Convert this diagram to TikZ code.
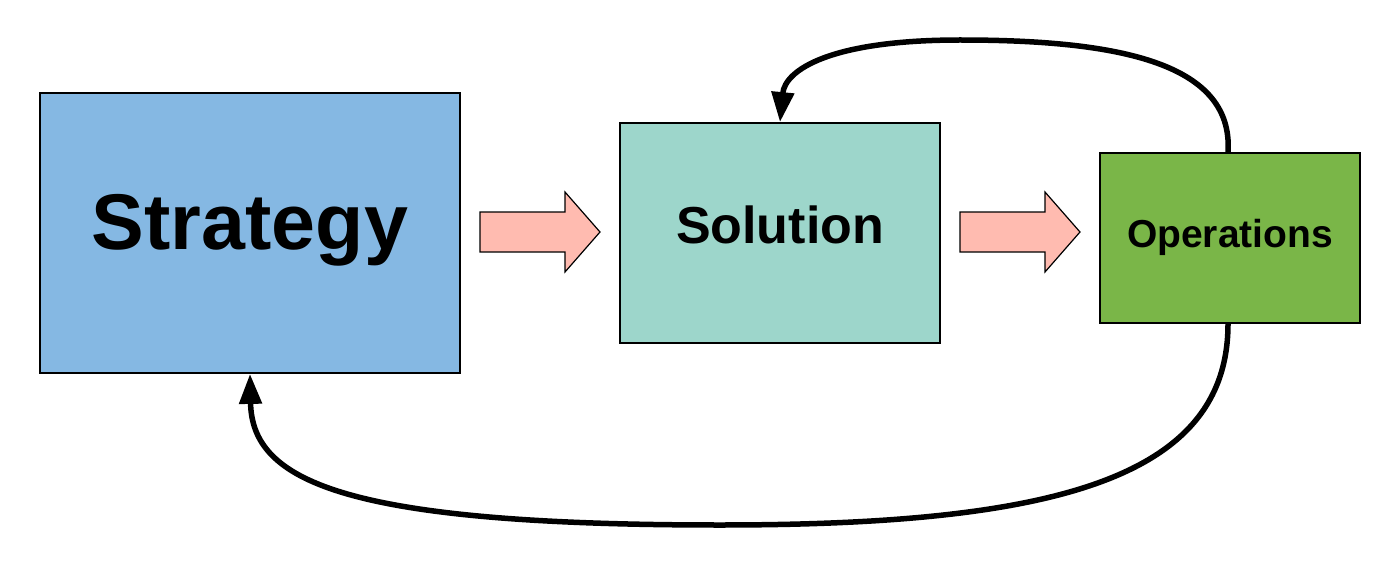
\documentclass[tikz,border=0pt]{standalone}
\usepackage{fontspec}
\setmainfont{Liberation Sans}
\usetikzlibrary{arrows.meta,shapes.arrows}
\definecolor{stratblue}{HTML}{85B8E3}
\definecolor{solteal}{HTML}{9DD6CB}
\definecolor{opgreen}{HTML}{7AB648}
\definecolor{arrpink}{HTML}{FFBBB0}
\tikzset{
  boxnode/.style={draw=black,line width=1.8pt,inner sep=0pt},
  boxtext/.style={inner sep=0pt,font=\bfseries},
  blockarrow/.style={draw=black,line width=1.2pt,fill=arrpink},
  loopline/.style={line width=5.5pt,-{Triangle[length=30pt,width=22pt]}}
}
\begin{document}
\begin{tikzpicture}[x=1pt,y=-1pt]
\useasboundingbox (0,0) rectangle (1400,567);
\node[boxnode,fill=stratblue,minimum width=420pt,minimum height=280pt] (strat) at (250,233) {};
\node[boxnode,fill=solteal,minimum width=320pt,minimum height=220pt] (sol) at (780,233) {};
\node[boxnode,fill=opgreen,minimum width=260pt,minimum height=170pt] (ops) at (1230,238) {};
\node[boxtext,anchor=base] (strattext) at (250,249) {\fontsize{79}{90}\selectfont Strategy};
\node[boxtext,anchor=base] (soltext) at (780,243) {\fontsize{52}{60}\selectfont Solution};
\node[boxtext,anchor=base] (opstext) at (1230,247) {\fontsize{39}{46}\selectfont Operations};
% block arrows
\draw[blockarrow] (480,212) -- (565,212) -- (565,192) -- (600,232) -- (565,272) -- (565,252) -- (480,252) -- cycle;
\draw[blockarrow] (960,212) -- (1045,212) -- (1045,192) -- (1080,232) -- (1045,272) -- (1045,252) -- (960,252) -- cycle;
% loops
\coordinate (topmid) at (960,40);
\coordinate (botmid) at (720,525);
\draw[loopline] ([xshift=-2pt]ops.north) .. controls (1234,60) and (1110,40) .. (topmid)
  .. controls (830,40) and (785,70) .. (sol.north);
\draw[loopline] ([xshift=-2pt]ops.south) .. controls (1228,480) and (1050,525) .. (botmid)
  .. controls (340,525) and (252,480) .. (strat.south);
\end{tikzpicture}
\end{document}
